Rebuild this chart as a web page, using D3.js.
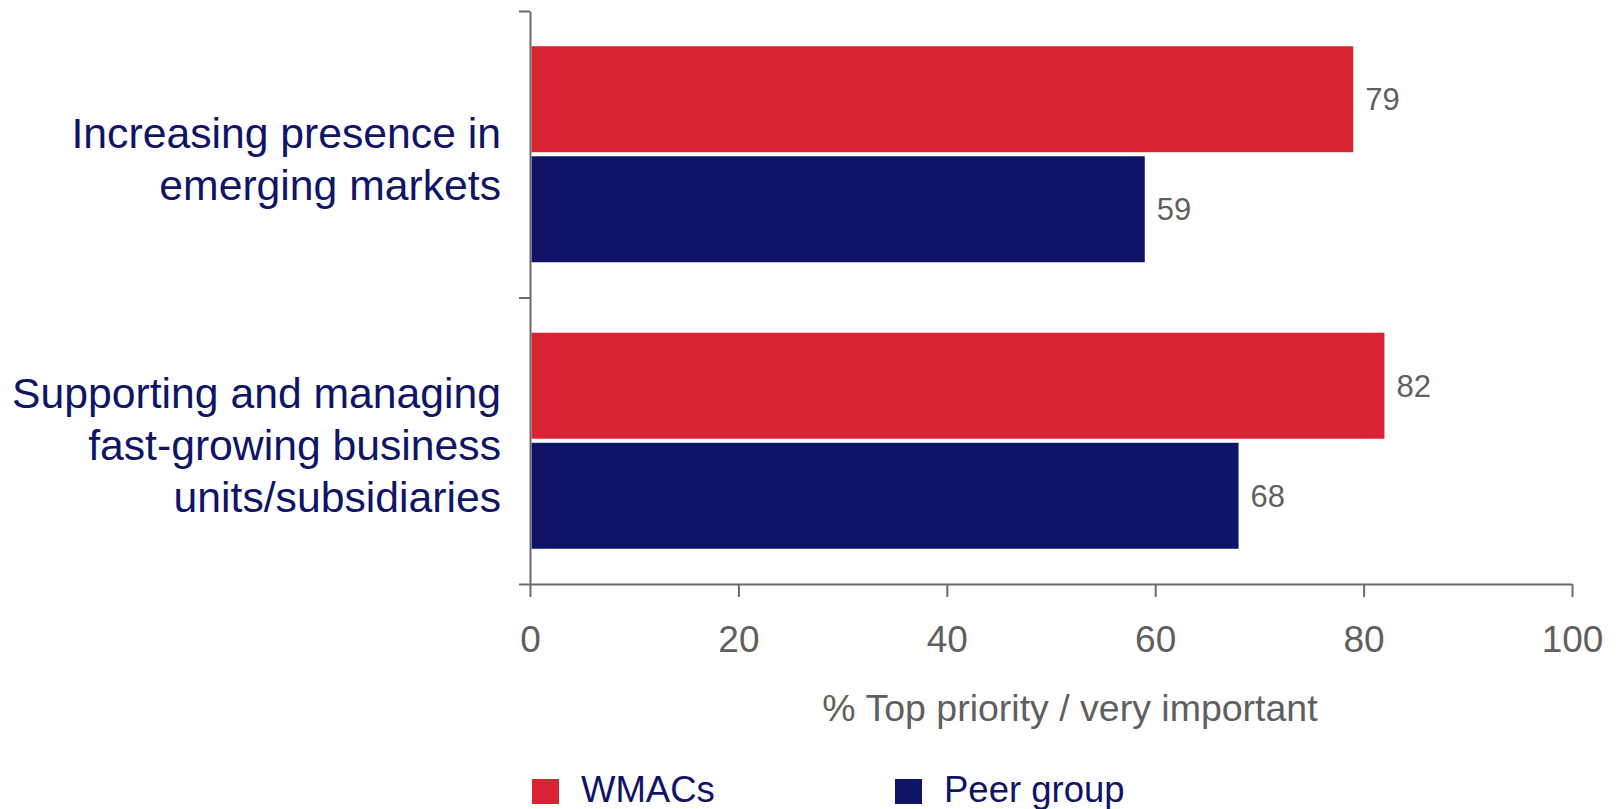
<!DOCTYPE html>
<html>
<head>
<meta charset="utf-8">
<script src="https://cdn.jsdelivr.net/npm/d3@7"></script>
<style>
  html, body { margin: 0; padding: 0; background: #fff; }
  svg { display: block; font-family: "Liberation Sans", Arial, sans-serif; }
</style>
</head>
<body>
<svg id="chart" width="1622" height="809"></svg>
<script>
// Categories (each label split into display lines)
const categories = ["emerging", "fastgrowing"];
const categoryLines = [
  ["Increasing presence in", "emerging markets"],
  ["Supporting and managing", "fast-growing business", "units/subsidiaries"]
];
// Series
const seriesNames = ["WMACs", "Peer group"];
const seriesColors = ["#d92234", "#0f1466"];
const wmacsValues = [79, 82];
const peerValues = [59, 68];
// Axis
const xTicks = [0, 20, 40, 60, 80, 100];
const xTitle = "% Top priority / very important";

const svg = d3.select("#chart");
const axisColor = "#6b6b6b";
const textGray = "#5f5f5f";
const navy = "#0f1466";

const x = d3.scaleLinear().domain([0, 100]).range([530, 1572]);
const y = d3.scaleBand().domain(categories).range([11, 584])
  .paddingInner(0.246).paddingOuter(0.123);
const ySub = d3.scaleBand().domain(seriesNames).range([0, y.bandwidth()])
  .paddingInner(0.037);

const rows = categories.map((c, i) => ({
  cat: c,
  values: [
    { name: seriesNames[0], v: wmacsValues[i], color: seriesColors[0] },
    { name: seriesNames[1], v: peerValues[i], color: seriesColors[1] }
  ]
}));

// Bars
const groups = svg.selectAll("g.cat").data(rows).join("g")
  .attr("class", "cat")
  .attr("transform", d => `translate(0,${y(d.cat)})`);

groups.selectAll("rect").data(d => d.values).join("rect")
  .attr("x", x(0) + 1.5)
  .attr("y", d => ySub(d.name))
  .attr("width", d => x(d.v) - x(0) - 1.5)
  .attr("height", ySub.bandwidth())
  .attr("fill", d => d.color);

// Value labels
groups.selectAll("text.val").data(d => d.values).join("text")
  .attr("class", "val")
  .attr("x", d => x(d.v) + 12)
  .attr("y", d => ySub(d.name) + ySub.bandwidth() / 2)
  .attr("dy", "0.36em")
  .attr("font-size", 31)
  .attr("fill", textGray)
  .text(d => d.v);

// X axis
const xAxis = svg.append("g")
  .attr("transform", `translate(0,584)`)
  .call(d3.axisBottom(x).tickValues(xTicks).tickSize(13).tickSizeOuter(0));
xAxis.select(".domain").attr("stroke", axisColor).attr("stroke-width", 2);
xAxis.selectAll(".tick line").attr("stroke", axisColor).attr("stroke-width", 2);
xAxis.selectAll(".tick text")
  .attr("y", 68).attr("dy", 0)
  .attr("font-size", 37)
  .attr("font-family", "Liberation Sans, Arial, sans-serif")
  .attr("fill", textGray);

// Y axis: ticks at category boundaries
const yBound = d3.scaleLinear().domain([0, categories.length]).range([11, 584]);
const yAxis = svg.append("g")
  .attr("transform", `translate(530,0)`)
  .call(d3.axisLeft(yBound).tickValues(d3.range(categories.length + 1))
    .tickSize(11).tickSizeOuter(0).tickFormat(""));
yAxis.select(".domain").attr("stroke", axisColor).attr("stroke-width", 2);
yAxis.selectAll(".tick line").attr("stroke", axisColor).attr("stroke-width", 2);

// Category labels
const lineH = 52;
categoryLines.forEach((lines, i) => {
  const cy = y(categories[i]) + y.bandwidth() / 2 + 3;
  const firstBaseline = cy - (lines.length - 1) * lineH / 2 + 16.5;
  const t = svg.append("text")
    .attr("text-anchor", "end")
    .attr("font-size", 42.7)
    .attr("fill", navy);
  lines.forEach((ln, j) => {
    t.append("tspan")
      .attr("x", 501)
      .attr("y", firstBaseline + j * lineH)
      .text(ln);
  });
});

// X axis title
svg.append("text")
  .attr("x", 1070)
  .attr("y", 721)
  .attr("text-anchor", "middle")
  .attr("font-size", 37.5)
  .attr("fill", textGray)
  .text(xTitle);

// Legend
const legendX = [532, 895];
const legend = svg.selectAll("g.legend").data(seriesNames).join("g")
  .attr("class", "legend")
  .attr("transform", (d, i) => `translate(${legendX[i]},779)`);
legend.append("rect")
  .attr("width", 27).attr("height", 25)
  .attr("fill", (d, i) => seriesColors[i]);
legend.append("text")
  .attr("x", 49).attr("y", 23)
  .attr("font-size", 36.5)
  .attr("fill", navy)
  .text(d => d);
</script>
</body>
</html>
